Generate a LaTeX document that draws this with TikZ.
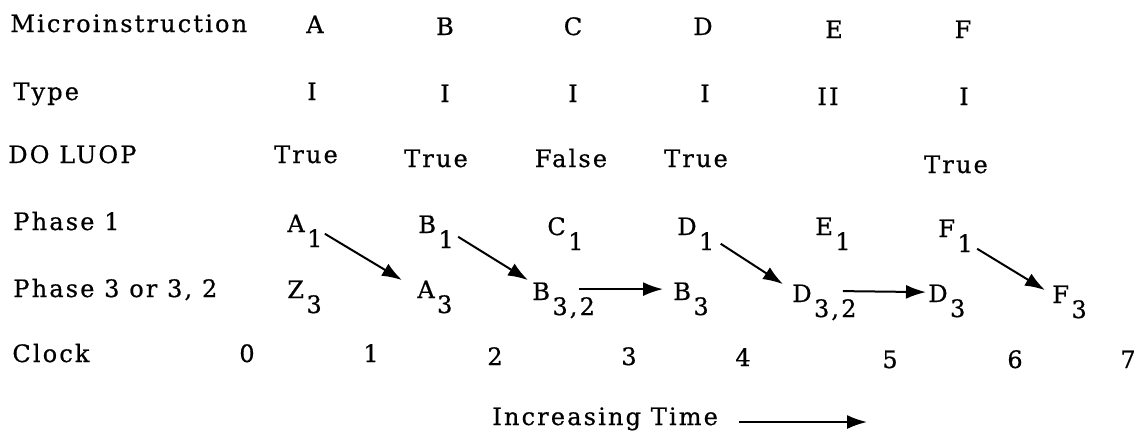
\documentclass[tikz,border=0pt]{standalone}
\usepackage{fontspec}
\setmainfont{DejaVu Serif}[LetterSpace=9, FakeBold=0.6]
\usetikzlibrary{arrows.meta}
\providecommand{\pipeLineWidth}{1pt}
\providecommand{\pipeSubDrop}{7.5pt}
% letter with a lowered, full size index
\newcommand{\pipeSub}[2]{#1\hspace{1.2pt}\raisebox{-\pipeSubDrop}{#2}}
\tikzset{
  rowlabel/.style={anchor=base west, inner sep=0pt},
  colentry/.style={anchor=base, inner sep=0pt},
  phaseentry/.style={anchor=base west, inner sep=0pt},
  flow/.style={-{Latex[length=10pt,width=7pt]}, line width=\pipeLineWidth}
}
\begin{document}
\begin{tikzpicture}[x=0.5pt, y=-0.5pt, font=\fontsize{12}{14}\selectfont]
\useasboundingbox (0,0) rectangle (1141,441);
% Row labels
\node[rowlabel] (mi) at (10,32) {Microinstruction};
\node[rowlabel] (ty) at (13,100) {Type};
\node[rowlabel] (lu) at (8,163) {DO LUOP};
\node[rowlabel] (pa) at (13,230) {Phase 1};
\node[rowlabel] (pb) at (13,297) {Phase 3 or 3, 2};
\node[rowlabel] (ck) at (12,362) {Clock};
% Microinstructions
\node[colentry] (ma) at (315,33) {A};
\node[colentry] (mb) at (445,35) {B};
\node[colentry] (mc) at (573,35) {C};
\node[colentry] (md) at (703,35) {D};
\node[colentry] (me) at (834,38) {E};
\node[colentry] (mf) at (963,38) {F};
% Types
\node[colentry] (ta) at (312,100) {I};
\node[colentry] (tb) at (445,102) {I};
\node[colentry] (tc) at (573,102) {I};
\node[colentry] (td) at (705,102) {I};
\node[colentry] (te) at (828,105) {II};
\node[colentry] (tf) at (964,105) {I};
% DO LUOP values
\node[colentry] (la) at (306,163) {True};
\node[colentry] (lb) at (436,167) {True};
\node[colentry] (lc) at (571,167) {False};
\node[colentry] (ld) at (696,167) {True};
\node[colentry] (lf) at (956,173) {True};
% Phase 1
\node[phaseentry] (a1) at (287,232) {\pipeSub{A}{1}};
\node[phaseentry] (b1) at (418,233) {\pipeSub{B}{1}};
\node[phaseentry] (c1) at (547,235) {\pipeSub{C}{1}};
\node[phaseentry] (d1) at (677,235) {\pipeSub{D}{1}};
\node[phaseentry] (e1) at (815,235) {\pipeSub{E}{1}};
\node[phaseentry] (f1) at (938,237) {\pipeSub{F}{1}};
% Phase 3 or 3, 2
\node[phaseentry] (z3) at (287,298) {\pipeSub{Z}{3}};
\node[phaseentry] (a3) at (417,298) {\pipeSub{A}{3}};
\node[phaseentry] (b32) at (532,300) {\pipeSub{B}{3,2}};
\node[phaseentry] (b3) at (673,300) {\pipeSub{B}{3}};
\node[phaseentry] (d32) at (792,302) {\pipeSub{D}{3,2}};
\node[phaseentry] (d3) at (928,302) {\pipeSub{D}{3}};
\node[phaseentry] (f3) at (1052,303) {\pipeSub{F}{3}};
% Clock
\node[colentry] (k0) at (247,362) {0};
\node[colentry] (k1) at (371,362) {1};
\node[colentry] (k2) at (495,365) {2};
\node[colentry] (k3) at (629,365) {3};
\node[colentry] (k4) at (743,366) {4};
\node[colentry] (k5) at (890,368) {5};
\node[colentry] (k6) at (1015,368) {6};
\node[colentry] (k7) at (1128,368) {7};
% Flow between phases
\draw[flow] ([xshift=1pt,yshift=-1.5pt]a1.east) -- ([xshift=-7.5pt]a3.north west);
\draw[flow] ([xshift=2pt,yshift=-2.5pt]b1.east) -- ([xshift=-2pt,yshift=1pt]b32.north west);
\draw[flow] ([xshift=-8pt,yshift=-3.5pt]b32.north east) -- ([xshift=-5pt,yshift=-3.5pt]b3.north west);
\draw[flow] ([xshift=3pt,yshift=-5pt]d1.east) -- ([xshift=-4.5pt]d32.north west);
\draw[flow] ([xshift=-7pt,yshift=-3.5pt]d32.north east) -- ([xshift=-1pt,yshift=-4pt]d3.north west);
\draw[flow] ([xshift=2pt,yshift=-6.5pt]f1.east) -- ([xshift=-3.5pt,yshift=-2.5pt]f3.north west);
% Time axis
\node[rowlabel] (it) at (492,425) {Increasing Time};
\coordinate (itend) at (867,422);
\draw[flow] ([xshift=10.5pt,yshift=1.5pt]it.base east) -- (itend);
\end{tikzpicture}
\end{document}
